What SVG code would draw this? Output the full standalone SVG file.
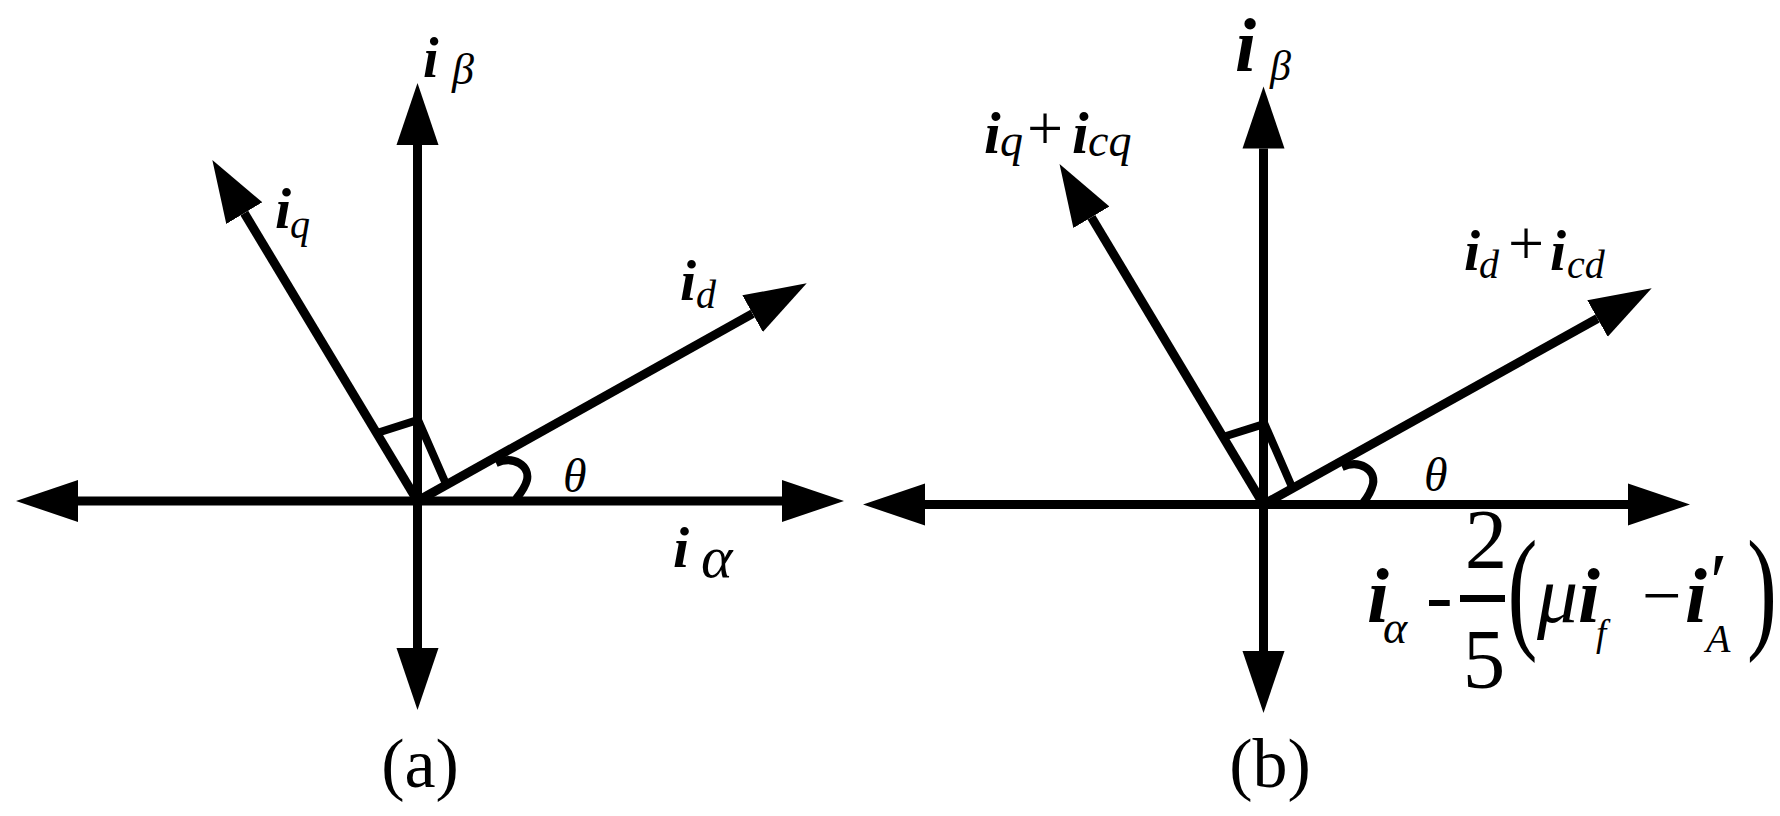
<svg xmlns="http://www.w3.org/2000/svg" width="1780" height="816" viewBox="0 0 1780 816" font-family="'Liberation Serif', 'Times New Roman', 'DejaVu Serif', serif">
<defs>
<style>
.ax{stroke:#000;stroke-width:9;fill:none}
.mk{stroke:#000;stroke-width:8;fill:none;stroke-linejoin:miter}
.t{fill:#000}
.it{font-style:italic}
.bi{font-style:italic;font-weight:bold}
</style>
<marker id="ah" markerUnits="userSpaceOnUse" markerWidth="64" markerHeight="44" viewBox="0 -22 64 44" refX="0" refY="0" orient="auto-start-reverse">
<path d="M0,-21 L62,0 L0,21 z" fill="#000"/>
</marker>
</defs>
<rect width="1780" height="816" fill="#fff"/>

<g id="connectors">
  <g id="connectors-a">
    <line class="ax" x1="78" y1="501" x2="782" y2="501" marker-start="url(#ah)" marker-end="url(#ah)"/>
    <line class="ax" x1="417.5" y1="648" x2="417.5" y2="145" marker-start="url(#ah)" marker-end="url(#ah)"/>
    <line class="ax" x1="417.5" y1="501" x2="244.3" y2="213.1" marker-end="url(#ah)"/>
    <line class="ax" x1="417.5" y1="501" x2="752.6" y2="313.6" marker-end="url(#ah)"/>
    <polyline class="mk" points="377,433 418,420 446,484"/>
    <path class="mk" d="M496,463 C514,455 530,466 527,480 C525,488 520,494 516,499"/>
  </g>
  <g id="connectors-b">
    <line class="ax" x1="925" y1="504.5" x2="1628" y2="504.5" marker-start="url(#ah)" marker-end="url(#ah)"/>
    <line class="ax" x1="1263.5" y1="651" x2="1263.5" y2="148.5" marker-start="url(#ah)" marker-end="url(#ah)"/>
    <line class="ax" x1="1263.5" y1="504.5" x2="1091.4" y2="217.2" marker-end="url(#ah)"/>
    <line class="ax" x1="1263.5" y1="504.5" x2="1597.5" y2="318.5" marker-end="url(#ah)"/>
    <polyline class="mk" points="1223,437 1264.5,424 1292,487"/>
    <path class="mk" d="M1342,467 C1360,459 1376,470 1373,484 C1371,492 1367,498 1363,503"/>
  </g>
</g>

<g id="label-a-ibeta" class="t">
  <text class="bi" x="423" y="77" font-size="56">i</text>
  <text class="it" x="452" y="84" font-size="44">β</text>
</g>
<g id="label-a-iq" class="t">
  <text class="bi" x="275" y="228" font-size="58">i</text>
  <text class="it" x="290" y="238" font-size="40">q</text>
</g>
<g id="label-a-id" class="t">
  <text class="bi" x="680" y="300" font-size="58">i</text>
  <text class="it" x="696" y="308" font-size="40">d</text>
</g>
<g id="label-a-ialpha" class="t">
  <text class="bi" x="673" y="567" font-size="58">i</text>
  <text class="it" x="701" y="577" font-size="60">α</text>
</g>
<g id="label-a-theta" class="t">
  <text class="it" x="563" y="492" font-size="48">θ</text>
</g>
<g id="caption-a" class="t">
  <text x="420" y="787" font-size="70" text-anchor="middle">(a)</text>
</g>

<g id="label-b-ibeta" class="t">
  <text class="bi" x="1235" y="71" font-size="76">i</text>
  <text class="it" x="1270" y="80" font-size="42">β</text>
</g>
<g id="label-b-iq-icq" class="t">
  <text class="bi" x="984" y="153" font-size="60">i</text>
  <text class="it" x="1000" y="156" font-size="46">q</text>
  <text x="1027" y="150" font-size="64">+</text>
  <text class="bi" x="1072" y="153" font-size="60">i</text>
  <text class="it" x="1088" y="156" font-size="46">cq</text>
</g>
<g id="label-b-id-icd" class="t">
  <text class="bi" x="1464" y="270" font-size="58">i</text>
  <text class="it" x="1479" y="278" font-size="40">d</text>
  <text x="1508" y="265" font-size="64">+</text>
  <text class="bi" x="1550" y="270" font-size="58">i</text>
  <text class="it" x="1567" y="278" font-size="40">cd</text>
</g>
<g id="label-b-theta" class="t">
  <text class="it" x="1424" y="491" font-size="48">θ</text>
</g>
<g id="label-b-formula" class="t">
  <text class="bi" x="1367" y="622" font-size="79">i</text>
  <text class="it" x="1383" y="643" font-size="46">α</text>
  <text x="1426" y="622" font-size="80">-</text>
  <text x="1486" y="568" font-size="85" text-anchor="middle">2</text>
  <rect x="1460" y="595" width="45" height="7" fill="#000"/>
  <text x="1484" y="688" font-size="85" text-anchor="middle">5</text>
  <text transform="translate(1507.5,634) scale(1,1.5)" font-size="90">(</text>
  <text class="it" x="1537" y="622" font-size="82">μ</text>
  <text class="bi" x="1578" y="622" font-size="79">i</text>
  <text class="it" x="1596" y="646" font-size="37">f</text>
  <text x="1642" y="619" font-size="70">−</text>
  <text class="bi" x="1685" y="622" font-size="79">i</text>
  <text class="it" x="1705" y="609" font-size="80">′</text>
  <text class="it" x="1706" y="652" font-size="40">A</text>
  <text transform="translate(1747,634) scale(1,1.5)" font-size="90">)</text>
</g>
<g id="caption-b" class="t">
  <text x="1270" y="787" font-size="70" text-anchor="middle">(b)</text>
</g>
</svg>
